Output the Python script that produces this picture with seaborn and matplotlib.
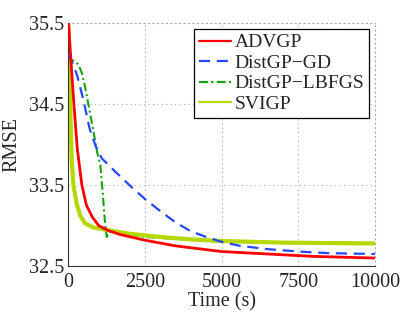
import numpy as np
import pandas as pd
import matplotlib
matplotlib.use('Agg')
import matplotlib.pyplot as plt
import seaborn as sns

# Data
t_advgp = [0, 100, 200, 300, 450, 600, 800, 1000, 1300, 1700, 2500, 3500, 5000, 6500, 8000, 10000]
rmse_advgp = [35.6, 35.0, 34.45, 33.95, 33.5, 33.25, 33.1, 33.0, 32.94, 32.89, 32.82, 32.75,
              32.68, 32.65, 32.62, 32.60]

t_gd = [0, 150, 300, 500, 700, 900, 1100, 1500, 2000, 2500, 3000, 3500, 4000, 4500, 5000,
        5600, 6500, 7500, 8500, 10000]
rmse_gd = [35.12, 35.0, 34.85, 34.55, 34.2, 33.98, 33.83, 33.68, 33.5, 33.33, 33.18, 33.04,
           32.93, 32.86, 32.8, 32.75, 32.71, 32.68, 32.66, 32.65]

t_lbfgs = [0, 100, 250, 350, 450, 550, 650, 800, 950, 1050, 1130, 1200, 1260, 1350, 1600,
           2500, 5000, 10000]
rmse_lbfgs = [35.1, 35.05, 35.02, 34.98, 34.88, 34.72, 34.52, 34.22, 33.9, 33.75, 33.4, 33.05,
              32.86, 32.93, 32.92, 32.86, 32.8, 32.78]

t_svigp = [0, 60, 120, 175, 280, 400, 550, 800, 1200, 2000, 3000, 4000, 5000, 7000, 10000]
rmse_svigp = [35.6, 34.6, 33.8, 33.5, 33.27, 33.12, 33.03, 32.98, 32.95, 32.9, 32.86, 32.83,
              32.81, 32.79, 32.78]

sns.set_theme(style='white')
plt.rcParams['font.family'] = ['Liberation Serif', 'DejaVu Serif']

fig = plt.figure(figsize=(4.15, 3.12), dpi=100)
ax = fig.add_axes([0.164, 0.147, 0.740, 0.779])

series = [
    ('ADVGP', t_advgp, rmse_advgp, '#ff0000', 2.0, '', 4),
    ('DistGP\u2212GD', t_gd, rmse_gd, '#2448ff', 1.6, (5, 3), 3),
    ('DistGP\u2212LBFGS', t_lbfgs, rmse_lbfgs, '#17a10f', 1.5, (4, 1.5, 1, 1.5), 1),
    ('SVIGP', t_svigp, rmse_svigp, '#b4d800', 3.0, '', 2),
]

for name, t, r, color, lw, dash, z in series:
    df = pd.DataFrame({'Time': t, 'RMSE': r})
    sns.lineplot(data=df, x='Time', y='RMSE', ax=ax, color=color, linewidth=lw,
                 label=name, zorder=z, estimator=None, sort=False)
    line = ax.get_lines()[-1]
    if dash:
        line.set_dashes(dash)

ax.set_xlim(0, 10000)
ax.set_ylim(32.5, 35.5)
ax.set_xticks([0, 2500, 5000, 7500, 10000])
ax.set_yticks([32.5, 33.5, 34.5, 35.5])
ax.set_yticklabels(['32.5', '33.5', '34.5', '35.5'])
ax.grid(True, color='#aaaaaa', linestyle=(0, (1, 3)), linewidth=0.8)
ax.tick_params(axis='y', labelsize=14.5, length=0, pad=3)
ax.tick_params(axis='x', labelsize=14.5, length=0, pad=5)
ax.set_xlabel('Time (s)', fontsize=14.5, labelpad=0)
ax.set_ylabel('RMSE', fontsize=14.5, labelpad=5)

for side in ['top', 'right']:
    ax.spines[side].set_color('#aaaaaa')
    ax.spines[side].set_linestyle((0, (1, 3)))
    ax.spines[side].set_linewidth(0.8)
for side in ['bottom', 'left']:
    ax.spines[side].set_color('#333333')
    ax.spines[side].set_linewidth(0.8)

leg = ax.legend(loc='upper right', fontsize=14, frameon=True, fancybox=False,
                handlelength=1.65, handletextpad=0.2, labelspacing=0.15,
                borderpad=0.25, borderaxespad=0.3)
leg.get_frame().set_edgecolor('black')
leg.get_frame().set_linewidth(0.9)
leg.get_frame().set_alpha(1)
for h in leg.get_lines():
    h.set_linewidth(1.6)

fig.savefig('out.png', dpi=100)
